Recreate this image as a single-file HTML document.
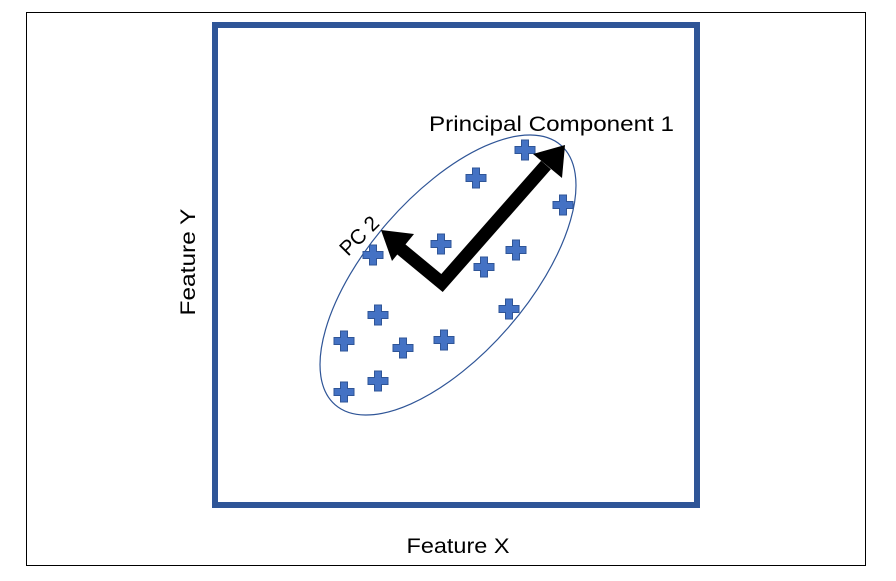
<!DOCTYPE html>
<html><head><style>
body{margin:0;background:#fff;}
</style></head><body>
<svg width="896" height="576" viewBox="0 0 896 576" xmlns="http://www.w3.org/2000/svg" font-family="Liberation Sans, sans-serif">
<rect x="0" y="0" width="896" height="576" fill="#fff"/>
<rect x="26.5" y="12.5" width="839" height="553" fill="none" stroke="#000" stroke-width="1"/>
<rect x="215" y="25" width="482" height="480" fill="none" stroke="#2F5597" stroke-width="6"/>
<ellipse cx="448" cy="275" rx="172" ry="80" transform="rotate(-49 448 275)" fill="none" stroke="#2F5597" stroke-width="1.2"/>
<defs>
<g id="p"><path d="M-3.5,-10 h7 v6.5 h6.5 v7 h-6.5 v6.5 h-7 v-6.5 h-6.5 v-7 h6.5 z" fill="#4472C4" stroke="#2F5597" stroke-width="1"/></g>
</defs>
<use href="#p" x="525" y="150"/><use href="#p" x="476" y="178"/><use href="#p" x="563" y="205"/>
<use href="#p" x="373" y="255"/><use href="#p" x="441" y="244"/><use href="#p" x="484" y="267"/>
<use href="#p" x="516" y="250"/><use href="#p" x="509" y="309"/><use href="#p" x="378" y="315"/>
<use href="#p" x="344" y="341"/><use href="#p" x="403" y="348"/><use href="#p" x="444" y="340"/>
<use href="#p" x="344" y="392"/><use href="#p" x="378" y="381"/>
<polyline points="396,245 442,283 546,165" fill="none" stroke="#000" stroke-width="13" stroke-linejoin="miter"/>
<polygon points="565,145 562,178 533,154" fill="#000"/>
<polygon points="381,230 414,234 392,261" fill="#000"/>
<text x="429" y="131" font-size="21" fill="#000" textLength="245" lengthAdjust="spacingAndGlyphs">Principal Component 1</text>
<text x="0" y="0" font-size="21" fill="#000" textLength="46" lengthAdjust="spacingAndGlyphs" transform="translate(348,257) rotate(-45)">PC 2</text>
<text x="0" y="0" font-size="21" fill="#000" text-anchor="middle" textLength="107" lengthAdjust="spacingAndGlyphs" transform="translate(195,262) rotate(-90)">Feature Y</text>
<text x="458" y="553" font-size="21" fill="#000" text-anchor="middle" textLength="103" lengthAdjust="spacingAndGlyphs">Feature X</text>
</svg>
</body></html>
